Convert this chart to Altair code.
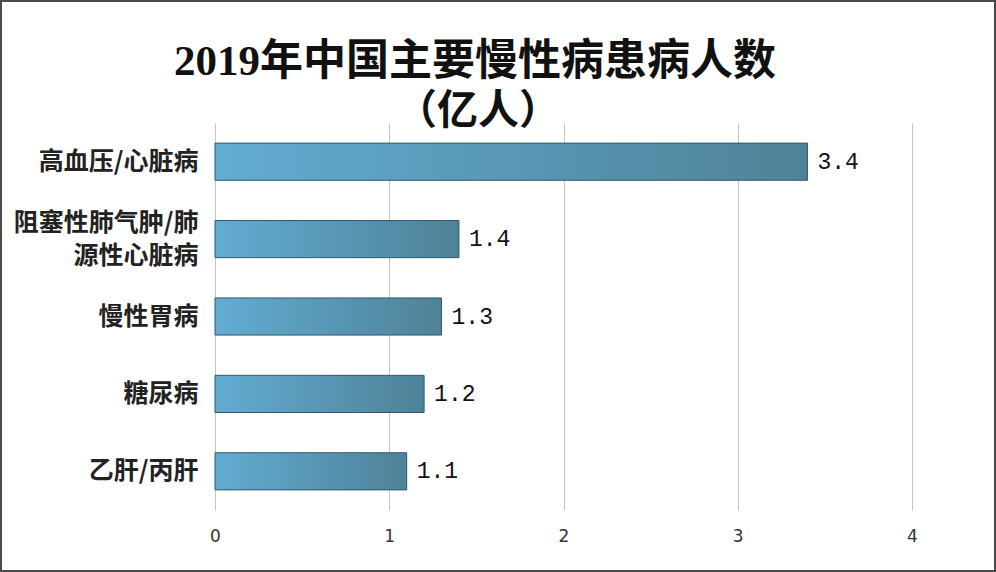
import altair as alt
import pandas as pd

categories = ["高血压/心脏病", "阻塞性肺气肿/肺\n源性心脏病", "慢性胃病", "糖尿病", "乙肝/丙肝"]
values = [3.4, 1.4, 1.3, 1.2, 1.1]
labels = ["3.4", "1.4", "1.3", "1.2", "1.1"]
title_lines = ["2019年中国主要慢性病患病人数", "（亿人）"]
tick_values = [0, 1, 2, 3, 4]

df = pd.DataFrame({"cat": categories, "val": values, "lab": labels})

W, H = 697, 387
PL, PT, PR, PB = 215, 123, 84, 62

grad = alt.LinearGradient(
    gradient="linear",
    stops=[alt.GradientStop(color="#62acd2", offset=0),
           alt.GradientStop(color="#4f8298", offset=1)],
    x1=0, x2=1, y1=0, y2=0,
)

y_enc = alt.Y("cat:N", sort=None, title=None,
              scale=alt.Scale(paddingInner=0.52, paddingOuter=0.26),
              axis=alt.Axis(domain=False, ticks=False, grid=False,
                            labelExpr="split(datum.label, '\\n')",
                            labelFont="Noto Sans CJK SC", labelFontSize=25,
                            labelFontWeight="bold", labelColor="#222222",
                            labelPadding=17, labelLineHeight=33, labelLimit=300,
                            labelOffset={"condition": {"test": "indexof(datum.value, '\\n') >= 0", "value": -16}, "value": 0}))
x_enc = alt.X("val:Q", title=None,
              scale=alt.Scale(domain=[0, 4], nice=False),
              axis=alt.Axis(values=tick_values, format="d", domain=False, ticks=False,
                            grid=True, gridColor="#c4c4c4", gridWidth=1, labelFlush=False,
                            labelFont="DejaVu Sans", labelFontSize=17, labelColor="#333333",
                            labelPadding=18))

bars = alt.Chart(df).mark_bar(color=grad, stroke="#2f5a6e", strokeWidth=1).encode(x=x_enc, y=y_enc)

text = alt.Chart(df).mark_text(align="left", baseline="middle", dx=10,
                               font="Liberation Mono", fontSize=23, color="#111111").encode(
    x="val:Q", y=alt.Y("cat:N", sort=None), text="lab:N")

tdf = pd.DataFrame({"t": title_lines, "row": [0, 1]})
title1 = alt.Chart(tdf.iloc[[0]]).mark_text(
    align="center", baseline="middle", font="Liberation Serif, Noto Sans CJK SC",
    fontSize=43, fontWeight="bold", color="#111111", clip=False).encode(
    text="t:N", x=alt.value(475 - PL), y=alt.value(62 - PT))
title2 = alt.Chart(tdf.iloc[[1]]).mark_text(
    align="center", baseline="middle", font="Liberation Serif, Noto Sans CJK SC",
    fontSize=41, fontWeight="bold", color="#111111", clip=False).encode(
    text="t:N", x=alt.value(478 - PL), y=alt.value(112 - PT))

frame = alt.Chart(pd.DataFrame({"k": [0]})).mark_rect(filled=False, stroke="#4a4a4a", strokeWidth=2, clip=False).encode(
    x=alt.value(-PL + 1), x2=alt.value(W + PR - 1),
    y=alt.value(-PT + 1), y2=alt.value(H + PB - 1))

chart = alt.layer(bars, text, title1, title2, frame).properties(
    width=W, height=H,
    padding={"left": PL, "top": PT, "right": PR, "bottom": PB},
    autosize=alt.AutoSizeParams(type="none"),
    background="white",
).configure_view(stroke=None)

chart.save("out.html", embed_options={"renderer": "svg", "actions": False})
